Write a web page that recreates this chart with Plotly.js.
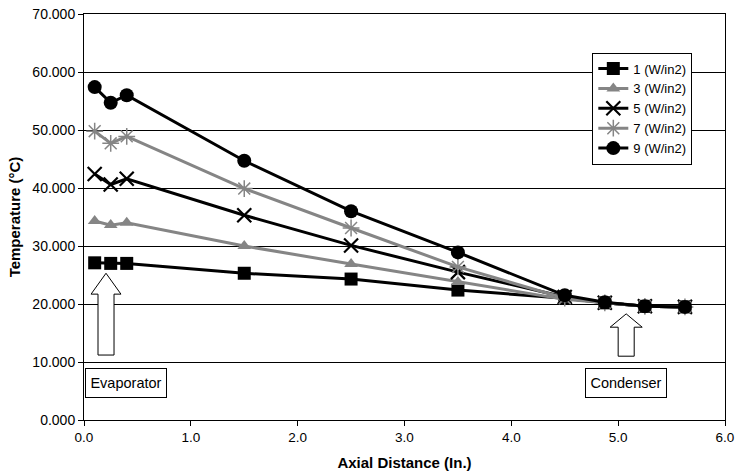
<!DOCTYPE html>
<html>
<head>
<meta charset="utf-8">
<script src="https://cdn.plot.ly/plotly-3.0.1.min.js"></script>
<style>html,body{margin:0;padding:0;background:#fff;}#chart{width:738px;height:474px;}</style>
</head>
<body>
<div id="chart"></div>
<script>
// Axial positions (in.)
const axialDistance = [0.1, 0.25, 0.4, 1.5, 2.5, 3.5, 4.5, 4.875, 5.25, 5.625];
// Temperatures (°C) per heat flux
const temp1 = [27.1, 27.0, 27.0, 25.3, 24.3, 22.4, 21.0, 20.2, 19.6, 19.5];
const temp3 = [34.3, 33.6, 34.0, 30.0, 26.9, 23.8, 20.8, 20.2, 19.6, 19.5];
const temp5 = [42.4, 40.6, 41.6, 35.3, 30.1, 25.5, 21.2, 20.2, 19.6, 19.5];
const temp7 = [49.8, 47.7, 48.9, 39.9, 33.1, 26.4, 21.0, 20.2, 19.6, 19.5];
const temp9 = [57.4, 54.7, 56.0, 44.7, 36.0, 28.9, 21.5, 20.3, 19.6, 19.5];
const seriesNames = ['1 (W/in2)', '3 (W/in2)', '5 (W/in2)', '7 (W/in2)', '9 (W/in2)'];
const yTickVals = [0, 10, 20, 30, 40, 50, 60, 70];
const xTickVals = [0, 1, 2, 3, 4, 5, 6];

const BLACK = '#000000', GRAY = '#858585';
const styles = [
  {color: BLACK, symbol: 'square', size: 13, lw: 0},
  {color: GRAY, symbol: 'triangle-up', size: 12, lw: 0},
  {color: BLACK, symbol: 'x-thin-open', size: 14, lw: 2.2},
  {color: GRAY, symbol: 'asterisk-open', size: 14, lw: 1.5},
  {color: BLACK, symbol: 'circle', size: 14, lw: 0}
];
const series = [temp1, temp3, temp5, temp7, temp9];

const traces = series.map((ys, i) => ({
  x: axialDistance, y: ys, name: seriesNames[i],
  type: 'scatter', mode: 'lines+markers',
  line: {color: styles[i].color, width: 3},
  marker: {color: styles[i].color, symbol: styles[i].symbol, size: styles[i].size,
           line: {color: styles[i].color, width: styles[i].lw}}
}));

const font = 'Liberation Sans, Arial, sans-serif';

const layout = {
  width: 738, height: 474,
  margin: {l: 84, r: 13, t: 14, b: 54},
  paper_bgcolor: '#ffffff', plot_bgcolor: '#ffffff',
  font: {family: font, size: 13, color: '#000'},
  showlegend: true,
  legend: {x: 0.793, y: 0.905, xanchor: 'left', yanchor: 'top',
           bgcolor: '#ffffff', bordercolor: '#000', borderwidth: 1,
           font: {family: font, size: 13, color: '#000'},
           tracegroupgap: 0},
  xaxis: {
    range: [0, 6], tickvals: xTickVals, tickformat: '.1f',
    showgrid: false, zeroline: false,
    showline: true, mirror: true, linecolor: '#000', linewidth: 1,
    ticks: 'outside', ticklen: 5, tickcolor: '#000',
    tickfont: {family: font, size: 13.5},
    title: {text: '<b>Axial Distance (In.)</b>', font: {family: font, size: 15}, standoff: 13}
  },
  yaxis: {
    range: [0, 70], tickvals: yTickVals, tickformat: '.3f',
    showgrid: true, gridcolor: '#000', gridwidth: 1, zeroline: false,
    showline: true, mirror: true, linecolor: '#000', linewidth: 1,
    ticks: 'outside', ticklen: 5, tickcolor: '#000',
    tickfont: {family: font, size: 14},
    title: {text: '<b>Temperature (°C)</b>', font: {family: font, size: 15}, standoff: 8}
  },
  shapes: [
    {type: 'path', xref: 'x', yref: 'y',
     path: 'M 0.206 25.3 L 0.346 21.7 L 0.281 21.7 L 0.281 11.2 L 0.131 11.2 L 0.131 21.7 L 0.066 21.7 Z',
     line: {color: '#000', width: 1}, fillcolor: '#ffffff'},
    {type: 'path', xref: 'x', yref: 'y',
     path: 'M 5.075 18.3 L 5.225 16.0 L 5.15 16.0 L 5.15 11.0 L 5.0 11.0 L 5.0 16.0 L 4.925 16.0 Z',
     line: {color: '#000', width: 1}, fillcolor: '#ffffff'}
  ],
  annotations: [
    {text: 'Evaporator', xref: 'x', yref: 'y', x: 0.39, y: 6.4, showarrow: false,
     font: {family: font, size: 14.5, color: '#000'},
     bordercolor: '#000', borderwidth: 1, borderpad: 4, bgcolor: '#fff', width: 72, height: 20},
    {text: 'Condenser', xref: 'x', yref: 'y', x: 5.07, y: 6.4, showarrow: false,
     font: {family: font, size: 14.5, color: '#000'},
     bordercolor: '#000', borderwidth: 1, borderpad: 4, bgcolor: '#fff', width: 72, height: 20}
  ]
};

Plotly.newPlot('chart', traces, layout, {displayModeBar: false, staticPlot: true});
</script>
</body>
</html>
